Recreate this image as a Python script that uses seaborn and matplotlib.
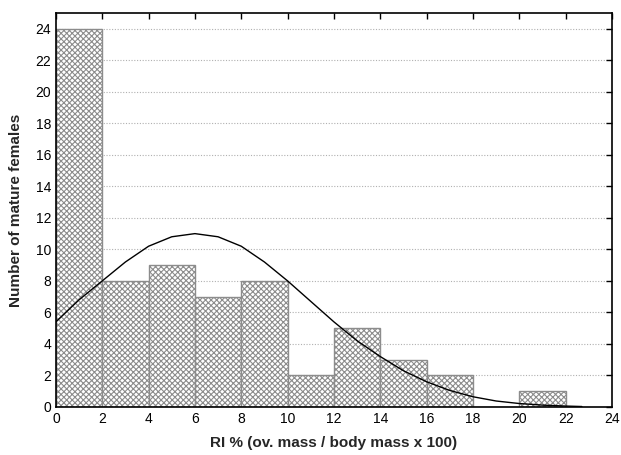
import numpy as np
import pandas as pd
import matplotlib
matplotlib.use("Agg")
import matplotlib.pyplot as plt
import seaborn as sns

# histogram bins (RI %) and counts of mature females
bin_edges = [0, 2, 4, 6, 8, 10, 12, 14, 16, 18, 20, 22]
counts = [24, 8, 9, 7, 8, 2, 5, 3, 2, 0, 1]

# fitted normal curve
curve_x = [0, 1, 2, 3, 4, 5, 6, 7, 8, 9, 10, 11, 12, 13, 14, 15, 16, 17,
           18, 19, 20, 21, 22, 22.7]
curve_y = [5.4, 6.8, 8.0, 9.2, 10.2, 10.8, 11.0, 10.8, 10.2, 9.2, 8.0, 6.7,
           5.4, 4.2, 3.2, 2.3, 1.6, 1.05, 0.65, 0.38, 0.22, 0.12, 0.06, 0.03]

x_ticks = list(range(0, 25, 2))
y_ticks = list(range(0, 25, 2))

sns.set_style("white")
plt.rcParams['font.family'] = ['Liberation Sans', 'DejaVu Sans']
plt.rcParams['hatch.linewidth'] = 0.8

fig = plt.figure(figsize=(6.21, 4.55), dpi=100)
ax = fig.add_axes([0.090, 0.1055, 0.8955, 0.866])

mids = [(a + b) / 2 for a, b in zip(bin_edges[:-1], bin_edges[1:])]
df = pd.DataFrame({"RI": mids, "n": counts})
sns.histplot(data=df, x="RI", weights="n", bins=bin_edges, ax=ax,
             color="white", edgecolor="#8c8c8c", linewidth=1.0, alpha=1,
             zorder=2)
for p in ax.patches:
    p.set_hatch("xxxxxx")

curve = pd.DataFrame({"x": curve_x, "y": curve_y})
sns.lineplot(data=curve, x="x", y="y", ax=ax, color="black", linewidth=1.0,
             zorder=3)

ax.set_xlim(0, 24)
ax.set_ylim(0, 25)
ax.set_xticks(x_ticks)
ax.set_yticks(y_ticks)
ax.yaxis.grid(True, linestyle=(0, (1, 1.5)), color="#b0b0b0", linewidth=0.8,
              zorder=0)
ax.set_axisbelow(True)
ax.tick_params(direction="in", length=4, width=1, top=True, right=True,
               labelsize=10, colors="black")
for s in ax.spines.values():
    s.set_color("black")
    s.set_linewidth(1.2)

ax.set_xlabel("RI % (ov. mass / body mass x 100)", fontsize=11,
              fontweight="bold", labelpad=7)
ax.set_ylabel("Number of mature females", fontsize=11, fontweight="bold",
              labelpad=9)

fig.savefig("out.png", dpi=100)
